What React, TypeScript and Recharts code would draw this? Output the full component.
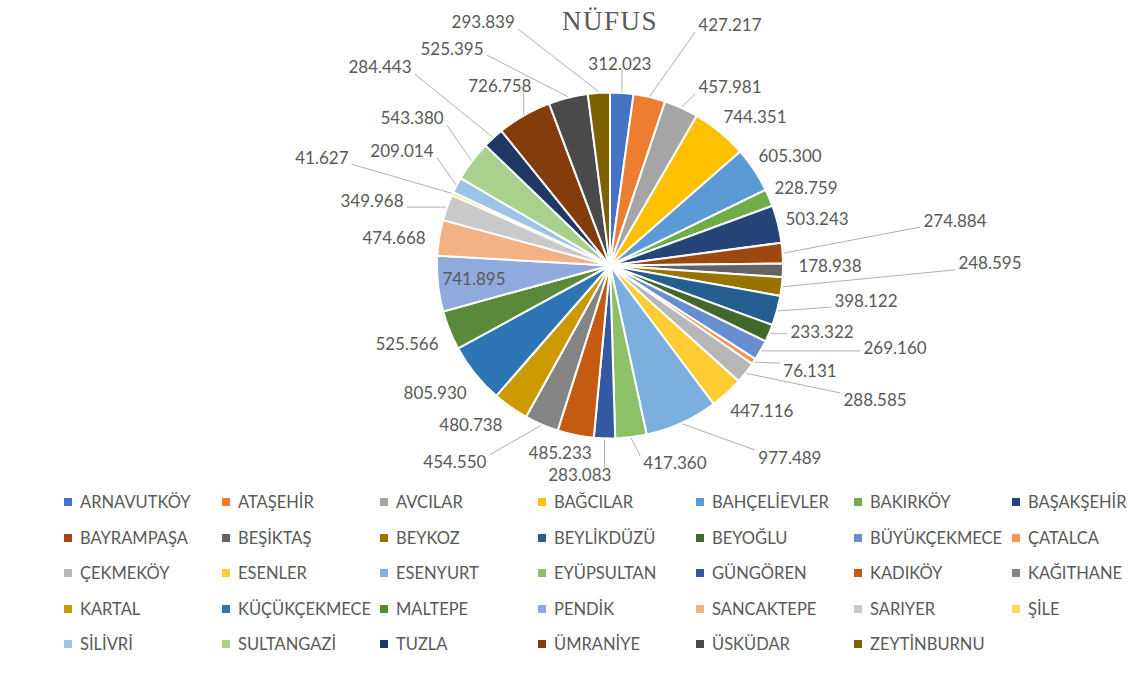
import React from 'react';
import { PieChart, Pie, Cell } from 'recharts';

const DISTRICTS = ['ARNAVUTKÖY','ATAŞEHİR','AVCILAR','BAĞCILAR','BAHÇELİEVLER','BAKIRKÖY','BAŞAKŞEHİR','BAYRAMPAŞA','BEŞİKTAŞ','BEYKOZ','BEYLİKDÜZÜ','BEYOĞLU','BÜYÜKÇEKMECE','ÇATALCA','ÇEKMEKÖY','ESENLER','ESENYURT','EYÜPSULTAN','GÜNGÖREN','KADIKÖY','KAĞITHANE','KARTAL','KÜÇÜKÇEKMECE','MALTEPE','PENDİK','SANCAKTEPE','SARIYER','ŞİLE','SİLİVRİ','SULTANGAZİ','TUZLA','ÜMRANİYE','ÜSKÜDAR','ZEYTİNBURNU'];

const POPULATION = [312023,427217,457981,744351,605300,228759,503243,274884,178938,248595,398122,233322,269160,76131,288585,447116,977489,417360,283083,485233,454550,480738,805930,525566,741895,474668,349968,41627,209014,543380,284443,726758,525395,293839];

const TITLE = 'NÜFUS';

const COLORS = ['#4472C4','#ED7D31','#A5A5A5','#FFC000','#5B9BD5','#70AD47','#264478','#9E480E','#636363','#997300','#255E91','#43682B','#698ED0','#F1975A','#B7B7B7','#FFCD33','#7CAFDD','#8CC168','#335AA1','#C55A11','#848484','#CC9A00','#2E75B6','#5A8A39','#8FAADC','#F4B183','#C9C9C9','#FFD966','#9DC3E6','#A9D18E','#1F3864','#843C0C','#4A4A4A','#7F6000'];

// label placement: [angle clockwise from 12 o'clock (deg), distance from pie centre (px)]
const LABEL_LAYOUT = [[2.8,202.7],[26.5,268.8],[33.9,215.1],[44.3,207.6],[58.5,211.2],[68.4,210.8],[77.1,212.4],[82.5,348],[89.9,220],[89.6,380],[97.7,258.3],[107.4,222.2],[106.1,296.7],[117.6,225.7],[116.9,297.2],[133.6,209.7],[136.8,262.8],[161.8,207.9],[188.2,211.5],[194.9,194],[218.3,250.3],[221.1,211.6],[234.1,215.9],[249.1,217.3],[264.7,136.6],[277.3,217.7],[285.2,246.6],[290.6,307.8],[299,237.9],[306.7,246.9],[310.8,303.8],[328.6,211.4],[324,268.8],[332.5,274.6]];

const data = DISTRICTS.map((name, i) => ({ name, value: POPULATION[i] }));

const fmt = (v: number) => String(v).replace(/\B(?=(\d{3})+(?!\d))/g, '.');
const RAD = Math.PI / 180;
const LABEL_FONT = 17;
const textWidth = (t: string) => {
  let w = 0;
  for (const ch of t) w += ch === '.' ? 0.25 : 0.58;
  return w * LABEL_FONT;
};

function renderLabel(props: any) {
  const { cx, cy, midAngle, outerRadius, index } = props;
  const [theta, dist] = LABEL_LAYOUT[index];
  const lx = cx + dist * Math.sin(theta * RAD);
  const ly = cy - dist * Math.cos(theta * RAD);
  const text = fmt(POPULATION[index]);
  const w = textWidth(text);
  const h = 14;
  const px = cx + (outerRadius + 1) * Math.cos(-midAngle * RAD);
  const py = cy + (outerRadius + 1) * Math.sin(-midAngle * RAD);
  const x0 = lx - w / 2 - 3, x1 = lx + w / 2 + 3, y0 = ly - h / 2, y1 = ly + h / 2;
  const qx = Math.min(Math.max(px, x0), x1);
  const qy = Math.min(Math.max(py, y0), y1);
  const dd = Math.hypot(px - qx, py - qy);
  return (
    <g key={`lbl-${index}`}>
      {dd > 14 && (
        <line x1={px} y1={py} x2={qx} y2={qy} stroke="#B0B0B0" strokeWidth={1} />
      )}
      <text x={lx} y={ly} textAnchor="middle" dominantBaseline="central"
        fontFamily="Lato, 'Open Sans', sans-serif" fontSize={LABEL_FONT} fill="#595959">
        {text}
      </text>
    </g>
  );
}

function LegendGrid() {
  return (
    <div style={{ position: 'absolute', left: 0, top: 490, width: 1139, height: 180 }}>
      {DISTRICTS.map((name, i) => {
        const c = i % 7;
        const r = Math.floor(i / 7);
        return (
          <div key={name} style={{
            position: 'absolute', left: 64 + 158 * c, top: 12 + 35.5 * r - 10,
            height: 20, display: 'flex', alignItems: 'center', whiteSpace: 'nowrap',
            fontFamily: "Lato, 'Open Sans', sans-serif", fontSize: 16.5, color: '#595959',
          }}>
            <span style={{ display: 'inline-block', width: 8, height: 8, background: COLORS[i], marginRight: 8 }} />
            <span>{name}</span>
          </div>
        );
      })}
    </div>
  );
}

export default function App() {
  return (
    <div style={{ position: 'absolute', left: 0, top: 0, width: 1139, height: 680, background: '#fff' }}>
      <div style={{
        position: 'absolute', left: 0, top: 8, width: 1220, textAlign: 'center',
        fontFamily: "'Liberation Serif', 'DejaVu Serif', serif", fontSize: 27, lineHeight: '27px',
        color: '#595959', letterSpacing: 1.5, zIndex: 2,
      }}>{TITLE}</div>
      <PieChart width={1139} height={680} margin={{ top: 0, right: 0, bottom: 0, left: 0 }}>
        <Pie
          data={data}
          dataKey="value"
          nameKey="name"
          cx={610}
          cy={265.5}
          outerRadius={173}
          startAngle={90}
          endAngle={-270}
          stroke="#ffffff"
          strokeWidth={2}
          label={renderLabel}
          labelLine={false}
          isAnimationActive={false}
        >
          {data.map((d, i) => (
            <Cell key={d.name} fill={COLORS[i]} />
          ))}
        </Pie>
      </PieChart>
      <LegendGrid />
    </div>
  );
}
